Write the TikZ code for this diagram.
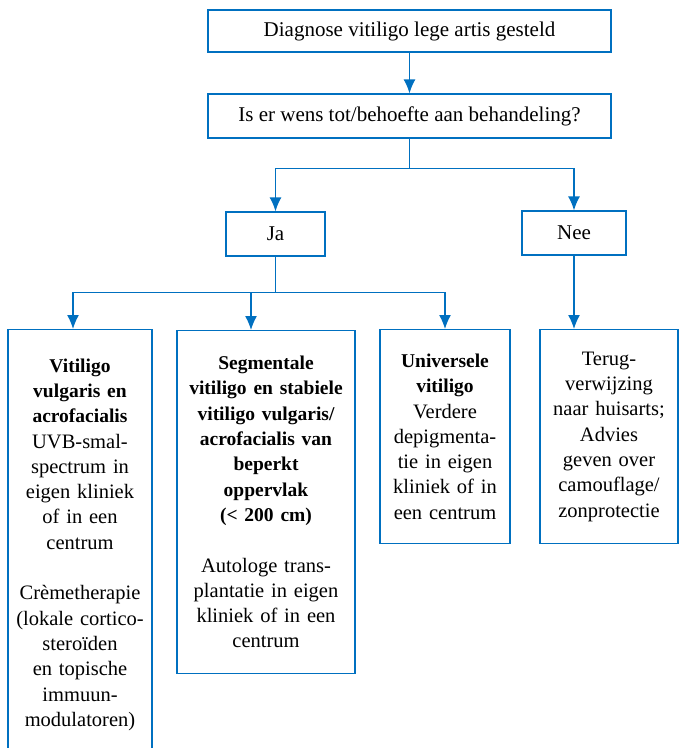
\documentclass[tikz,border=0pt]{standalone}
\usepackage{fontspec}
\setmainfont{Liberation Serif}
\usetikzlibrary{positioning,arrows.meta}
\definecolor{vitblue}{RGB}{0,112,192}
\newcommand\kop{\fontsize{19.5}{25.3}\selectfont\bfseries}
\newcommand\tekst{\fontsize{20.5}{25.3}\selectfont\mdseries}
\tikzstyle{arrow} = [draw=vitblue, line width=1.3pt, -{Latex[length=14pt,width=12pt]}]
\tikzset{
 q/.style
  = {rectangle, draw=vitblue, line width=1.3pt, text centered, inner sep=0pt,
     font=\fontsize{21}{25.3}\selectfont},
 t/.style
  = {rectangle, draw=vitblue, line width=1.3pt, align=center, inner xsep=4pt,
     inner ysep=0pt, anchor=north, font=\tekst},
}

\begin{document}
\begin{tikzpicture}[x=1pt, y=-1pt]

\useasboundingbox (0,0) rectangle (679,748);
\clip (0,0) rectangle (679,748);

% Vraag
\node[q, minimum width=403pt, minimum height=42pt] (diag) at (409.5,31) {Diagnose vitiligo lege artis gesteld};
\node[q, minimum width=403pt, minimum height=44pt] (wens) at (409.5,116) {Is er wens tot/behoefte aan behandeling?};

% Ja / Nee
\node[q, minimum width=99pt, minimum height=44pt] (ja) at (275.5,234) {Ja};
\node[q, minimum width=104pt, minimum height=44pt] (nee) at (574,233) {Nee};

% Behandelingen
\node[t, text width=136pt, minimum height=430pt] (vulg) at (80,329)
  {\kop Vitiligo\\vulgaris en\\acrofacialis\\\tekst UVB-smal-\\spectrum in\\eigen kliniek\\of in een\\centrum\\[25.3pt]Crèmetherapie\\(lokale cortico-\\steroïden\\en topische\\immuun-\\modulatoren)};
\node[t, text width=170pt, minimum height=343pt] (segm) at (266,330)
  {\kop Segmentale\\vitiligo en stabiele\\vitiligo vulgaris/\\acrofacialis van\\beperkt\\oppervlak\\(< 200 cm)\\[25.3pt]\tekst Autologe trans-\\plantatie in eigen\\kliniek of in een\\centrum};
\node[t, text width=122pt, minimum height=214pt] (univ) at (445,329)
  {\kop Universele\\vitiligo\\\tekst Verdere\\depigmenta-\\tie in eigen\\kliniek of in\\een centrum};
\node[t, text width=130pt, minimum height=214pt] (terug) at (609,329)
  {Terug-\\verwijzing\\naar huisarts;\\Advies\\geven over\\camouflage/\\zonprotectie};

% Verbindingen
\draw[arrow] (diag) -- (wens);
\draw[arrow] (wens.south) -- ++(0,30) -| (ja.north);
\draw[arrow] (wens.south) -- ++(0,30) -| (nee.north);
\draw[arrow] (ja.south) -- ++(0,36) -| ([xshift=-7pt]vulg.north);
\draw[arrow] (ja.south) -- ++(0,36) -| ([xshift=-15pt]segm.north);
\draw[arrow] (ja.south) -- ++(0,36) -| (univ.north);
\draw[arrow] (nee.south) -- (nee.south |- terug.north);

\end{tikzpicture}
\end{document}
